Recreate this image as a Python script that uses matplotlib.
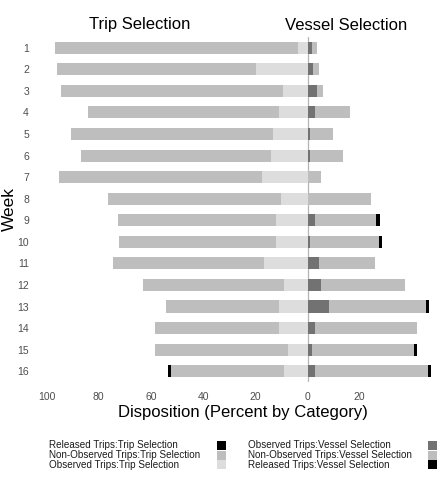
import numpy as np
import matplotlib
matplotlib.use('Agg')
import matplotlib.pyplot as plt
from matplotlib.patches import Rectangle

plt.rcParams['font.family'] = ['Liberation Sans', 'DejaVu Sans']

weeks = list(range(1, 17))

# trip selection (drawn to the left of zero)
trip_obs = [3.5, 19.8, 9.5, 10.8, 13.1, 14.1, 17.4, 10.2, 12.2, 12.2, 16.7, 9.1, 11.0, 11.0, 7.6, 9.0]
trip_nonobs = [93.4, 76.2, 85.1, 73.4, 77.5, 72.7, 77.9, 66.1, 60.5, 59.9, 57.9, 53.8, 43.2, 47.4, 50.9, 43.3]
trip_rel = [0, 0, 0, 0, 0, 0, 0, 0, 0, 0, 0, 0, 0, 0, 0, 1.0]

# vessel selection (drawn to the right of zero)
ves_obs = [1.6, 2.0, 3.8, 2.8, 1.0, 1.1, 0, 0, 3.0, 1.1, 4.4, 5.3, 8.4, 2.9, 1.8, 2.9]
ves_nonobs = [1.9, 2.4, 2.1, 13.4, 8.9, 12.5, 5.2, 24.2, 23.4, 26.2, 21.5, 32.2, 36.9, 39.2, 39.0, 43.3]
ves_rel = [0, 0, 0, 0, 0, 0, 0, 0, 1.3, 1.4, 0, 0, 1.1, 0, 1.2, 1.2]

xticks = [-100, -80, -60, -40, -20, 0, 20]

c_light = '#dddddd'
c_gray = '#bebebe'
c_dark = '#727272'
c_black = '#000000'

fig = plt.figure(figsize=(4.38, 4.79), dpi=100)
ax = fig.add_axes([0.0884, 0.2025, 0.9057, 0.7203])

y = np.array(weeks)
h = 0.56
to = np.array(trip_obs)
tn = np.array(trip_nonobs)
tr = np.array(trip_rel)
ax.barh(y, -to, height=h, color=c_light, linewidth=0)
ax.barh(y, -tn, left=-to, height=h, color=c_gray, linewidth=0)
ax.barh(y, -tr, left=-(to + tn), height=h, color=c_black, linewidth=0)

vo = np.array(ves_obs)
vn = np.array(ves_nonobs)
vr = np.array(ves_rel)
ax.barh(y, vo, height=h, color=c_dark, linewidth=0)
ax.barh(y, vn, left=vo, height=h, color=c_gray, linewidth=0)
ax.barh(y, vr, left=vo + vn, height=h, color=c_black, linewidth=0)

ax.axvline(0, color='#b5b5b5', linewidth=0.9, zorder=0)

ax.set_xlim(-103, 49)
ax.set_ylim(16.5, 0.5)
ax.set_yticks(weeks)
ax.set_yticklabels([str(w) for w in weeks])
ax.set_xticks(xticks)
ax.set_xticklabels([str(abs(t)) for t in xticks])
ax.tick_params(length=0, labelsize=7.5, labelcolor='#4d4d4d')
ax.tick_params(axis='y', pad=7)
ax.tick_params(axis='x', pad=7)
for s in ax.spines.values():
    s.set_visible(False)

W, H = 438.0, 479.0
fig.text(9 / W, 1 - 209 / H, 'Week', fontsize=12.5, rotation=90, ha='center', va='center')
fig.text(243 / W, 1 - 412 / H, 'Disposition (Percent by Category)', fontsize=12,
         ha='center', va='center')

fig.text(140 / W, 1 - 25 / H, 'Trip Selection', fontsize=12, ha='center', va='center')
fig.text(346 / W, 1 - 25 / H, 'Vessel Selection', fontsize=12, ha='center', va='center')

# legend drawn by hand: text left-aligned, key column to the right
left_labels = ['Released Trips:Trip Selection', 'Non-Observed Trips:Trip Selection',
               'Observed Trips:Trip Selection']
left_cols = [c_black, c_gray, c_light]
right_labels = ['Observed Trips:Vessel Selection', 'Non-Observed Trips:Vessel Selection',
                'Released Trips:Vessel Selection']
right_cols = [c_dark, c_gray, c_black]

row_y = [445.5, 455, 464.5]
for labels, cols, tx, kx in [(left_labels, left_cols, 49, 217),
                             (right_labels, right_cols, 248, 428)]:
    for lab, col, ry in zip(labels, cols, row_y):
        fig.text(tx / W, 1 - ry / H, lab, fontsize=7.1, ha='left', va='center', color='#1a1a1a')
        fig.patches.append(Rectangle((kx / W, 1 - (ry + 4.5) / H), 8.5 / W, 9 / H,
                                     transform=fig.transFigure, color=col, linewidth=0))

fig.savefig('out.png', dpi=100)
